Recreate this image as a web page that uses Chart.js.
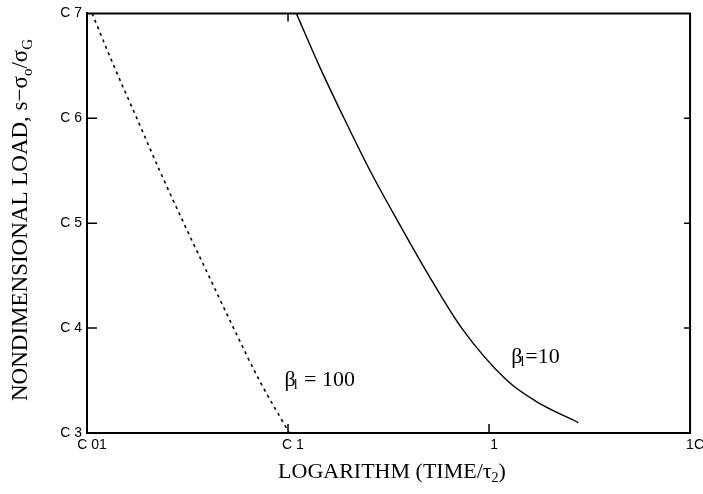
<!DOCTYPE html>
<html>
<head>
<meta charset="utf-8">
<script src="https://cdn.jsdelivr.net/npm/chart.js@4.4.0/dist/chart.umd.min.js"></script>
<style>
  html, body { margin: 0; padding: 0; background: #fff; }
  #wrap { width: 703px; height: 494px; }
</style>
</head>
<body>
<div id="wrap"><canvas id="loadChart"></canvas></div>
<script>
// beta_l = 100 (dotted)
const beta100Time = [0.0106, 0.0136, 0.0177, 0.0230, 0.0303, 0.0403, 0.0536, 0.0721, 0.1015];
const beta100Load = [0.70, 0.65, 0.60, 0.55, 0.50, 0.45, 0.40, 0.35, 0.30];

// beta_l = 10 (solid)
const beta10Time = [0.110, 0.143, 0.190, 0.256, 0.356, 0.502, 0.731, 1.23, 1.72, 2.78];
const beta10Load = [0.70, 0.65, 0.60, 0.55, 0.50, 0.45, 0.40, 0.35, 0.33, 0.31];

// tick labels as printed on the figure
const xTickValues = [0.01, 0.1, 1, 10];
const xTickLabels = ['C 01', 'C 1', '1', '1C'];
const yTickValues = [0.3, 0.4, 0.5, 0.6, 0.7];
const yTickLabels = ['C 3', 'C 4', 'C 5', 'C 6', 'C 7'];

function toPoints(xs, ys) {
    return xs.map((x, i) => ({ x: x, y: ys[i] }));
}

// frame, inward ticks, axis titles and curve labels
const decorations = {
    id: 'decorations',
    afterDraw(chart) {
        const ctx = chart.ctx;
        const area = chart.chartArea;
        const xs = chart.scales.x;
        const ys = chart.scales.y;
        ctx.save();
        ctx.strokeStyle = '#000';
        ctx.lineWidth = 2;
        ctx.beginPath();
        ctx.moveTo(area.left, area.top);
        ctx.lineTo(area.right, area.top);
        ctx.lineTo(area.right, area.bottom);
        ctx.stroke();

        ctx.lineWidth = 1.5;
        ctx.beginPath();
        [0.1, 1].forEach(v => {
            const px = xs.getPixelForValue(v);
            ctx.moveTo(px, area.bottom);
            ctx.lineTo(px, area.bottom - 9);
        });
        const tx = xs.getPixelForValue(0.1);
        ctx.moveTo(tx, area.top);
        ctx.lineTo(tx, area.top + 8);
        [0.4, 0.5, 0.6].forEach(v => {
            const py = ys.getPixelForValue(v);
            ctx.moveTo(area.left, py);
            ctx.lineTo(area.left + 10, py);
            ctx.moveTo(area.right, py);
            ctx.lineTo(area.right - 6, py);
        });
        ctx.stroke();

        ctx.fillStyle = '#000';
        ctx.textBaseline = 'alphabetic';

        // draws a run of [text, size, dy] pieces centred on cx
        function runs(parts, cx, y) {
            let total = 0;
            parts.forEach(p => { ctx.font = p[1] + 'px "Liberation Serif"'; total += ctx.measureText(p[0]).width; });
            let px = cx - total / 2;
            parts.forEach(p => {
                ctx.font = p[1] + 'px "Liberation Serif"';
                ctx.fillText(p[0], px, y + p[2]);
                px += ctx.measureText(p[0]).width;
            });
        }

        // x title
        runs([['LOGARITHM (TIME/τ', 22, 0], ['2', 14, 4], [')', 22, 0]], 392, 478);

        // y title, rotated
        ctx.save();
        ctx.translate(27, 220);
        ctx.rotate(-Math.PI / 2);
        runs([['NONDIMENSIONAL LOAD, s−σ', 23, 0], ['o', 15, 5], ['/σ', 23, 0], ['G', 15, 5]], 0, 0);
        ctx.restore();

        // curve labels
        function betaLabel(xv, yv, rest) {
            let px = xs.getPixelForValue(xv);
            const py = ys.getPixelForValue(yv) + 8;
            ctx.font = '22px "Liberation Serif"';
            ctx.fillText('β', px, py);
            px += ctx.measureText('β').width - 2;
            ctx.font = '14px "Liberation Serif"';
            ctx.fillText('l', px, py + 3);
            px += ctx.measureText('l').width + 1;
            ctx.font = '22px "Liberation Serif"';
            ctx.fillText(rest, px, py);
        }
        betaLabel(0.096, 0.352, ' = 100');
        betaLabel(1.29, 0.374, '=10');
        ctx.restore();
    }
};

new Chart(document.getElementById('loadChart'), {
    type: 'line',
    data: {
        datasets: [
            {
                label: 'β = 100',
                data: toPoints(beta100Time, beta100Load),
                borderColor: '#000',
                borderWidth: 1.6,
                borderDash: [3, 4],
                pointRadius: 0,
                fill: false,
                cubicInterpolationMode: 'monotone'
            },
            {
                label: 'β = 10',
                data: toPoints(beta10Time, beta10Load),
                borderColor: '#000',
                borderWidth: 1.4,
                pointRadius: 0,
                fill: false,
                cubicInterpolationMode: 'monotone'
            }
        ]
    },
    options: {
        responsive: true,
        maintainAspectRatio: false,
        animation: false,
        layout: { padding: { left: 0, right: 11, top: 12, bottom: 0 } },
        plugins: { legend: { display: false }, tooltip: { enabled: false } },
        scales: {
            x: {
                type: 'logarithmic',
                min: 0.01,
                max: 10,
                afterBuildTicks: s => { s.ticks = xTickValues.map(v => ({ value: v })); },
                afterFit: s => { s.height = 61; },
                grid: { display: false, drawTicks: false },
                border: { display: true, color: '#000', width: 2 },
                ticks: {
                    color: '#000',
                    font: { family: 'Liberation Sans', size: 14 },
                    padding: 4,
                    labelOffset: 5,
                    maxRotation: 0,
                    autoSkip: false,
                    callback: (v) => xTickLabels[xTickValues.indexOf(v)]
                }
            },
            y: {
                min: 0.3,
                max: 0.7,
                afterBuildTicks: s => { s.ticks = yTickValues.map(v => ({ value: v })); },
                afterFit: s => { s.width = 87; },
                grid: { display: false, drawTicks: false },
                border: { display: true, color: '#000', width: 2 },
                ticks: {
                    color: '#000',
                    font: { family: 'Liberation Sans', size: 14 },
                    padding: 5,
                    callback: (v) => yTickLabels[yTickValues.findIndex(t => Math.abs(t - v) < 1e-6)]
                }
            }
        }
    },
    plugins: [decorations]
});
</script>
</body>
</html>
